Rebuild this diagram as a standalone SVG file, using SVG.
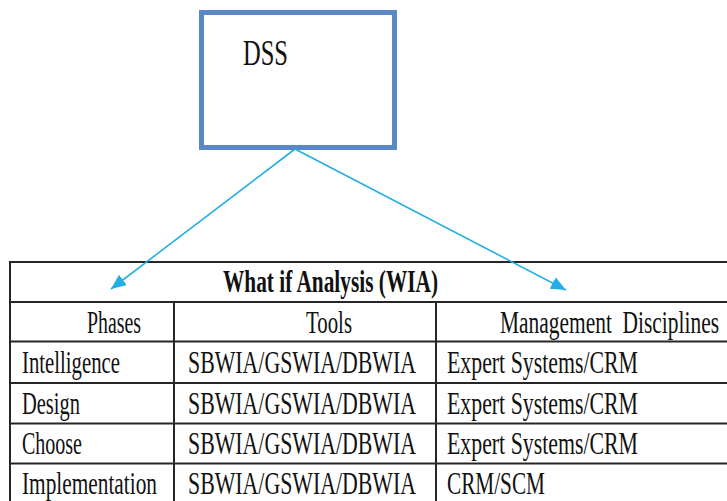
<svg xmlns="http://www.w3.org/2000/svg" width="727" height="501" viewBox="0 0 727 501">
  <style>
    .box { fill: #ffffff; stroke: #5a87c6; stroke-width: 5; }
    .grid { stroke: #262626; stroke-width: 2; fill: none; }
    .conn { stroke: #23aee6; stroke-width: 1.6; fill: none; }
    .t { font-family: "Liberation Serif", "Times New Roman", serif; font-size: 21.5px; fill: #111111; }
    .b { font-weight: bold; font-size: 21.2px; }
  </style>
  <defs>
    <marker id="arrow" markerUnits="userSpaceOnUse" markerWidth="16" markerHeight="14" refX="15" refY="6.5" orient="auto">
      <path d="M0,0 L15,6.5 L0,13 z" fill="#23aee6"/>
    </marker>
  </defs>
  <rect width="727" height="501" fill="#ffffff"/>

  <!-- DSS node -->
  <g id="dss">
    <rect class="box" x="201.5" y="12.5" width="193" height="135"/>
    <text class="t" transform="translate(243,65) scale(1,1.47)" style="font-size:24.5px" textLength="45" lengthAdjust="spacingAndGlyphs">DSS</text>
  </g>

  <!-- What-if analysis table; glyphs are set narrow and stretched tall -->
  <g id="wia-table">
    <!-- outer frame (right and bottom edges run past the canvas) -->
    <path class="grid" d="M740,262 H10 V510"/>
    <!-- row separators -->
    <path class="grid" d="M10,302 H740 M10,341.5 H740 M10,383 H740 M10,423.5 H740 M10,463.5 H740"/>
    <!-- column separators -->
    <path class="grid" d="M174,302 V510 M436,302 V510"/>

    <text class="t b" transform="translate(223,292) scale(1,1.5)" textLength="215" lengthAdjust="spacingAndGlyphs">What if Analysis (WIA)</text>

    <text class="t" transform="translate(87,333) scale(1,1.5)" textLength="54" lengthAdjust="spacingAndGlyphs">Phases</text>
    <text class="t" transform="translate(306,333) scale(1,1.5)" textLength="46" lengthAdjust="spacingAndGlyphs">Tools</text>
    <text class="t" transform="translate(500,333) scale(1,1.5)" textLength="219" lengthAdjust="spacingAndGlyphs" xml:space="preserve">Management  Disciplines</text>

    <text class="t" transform="translate(22,373) scale(1,1.5)" textLength="98" lengthAdjust="spacingAndGlyphs">Intelligence</text>
    <text class="t" transform="translate(188,373) scale(1,1.5)" textLength="228" lengthAdjust="spacingAndGlyphs">SBWIA/GSWIA/DBWIA</text>
    <text class="t" transform="translate(447,373) scale(1,1.5)" textLength="191" lengthAdjust="spacingAndGlyphs">Expert Systems/CRM</text>

    <text class="t" transform="translate(22,413.5) scale(1,1.5)" textLength="58" lengthAdjust="spacingAndGlyphs">Design</text>
    <text class="t" transform="translate(188,413.5) scale(1,1.5)" textLength="228" lengthAdjust="spacingAndGlyphs">SBWIA/GSWIA/DBWIA</text>
    <text class="t" transform="translate(447,413.5) scale(1,1.5)" textLength="191" lengthAdjust="spacingAndGlyphs">Expert Systems/CRM</text>

    <text class="t" transform="translate(22,453.5) scale(1,1.5)" textLength="60" lengthAdjust="spacingAndGlyphs">Choose</text>
    <text class="t" transform="translate(188,453.5) scale(1,1.5)" textLength="228" lengthAdjust="spacingAndGlyphs">SBWIA/GSWIA/DBWIA</text>
    <text class="t" transform="translate(447,453.5) scale(1,1.5)" textLength="191" lengthAdjust="spacingAndGlyphs">Expert Systems/CRM</text>

    <text class="t" transform="translate(22,494) scale(1,1.5)" textLength="135" lengthAdjust="spacingAndGlyphs">Implementation</text>
    <text class="t" transform="translate(188,494) scale(1,1.5)" textLength="228" lengthAdjust="spacingAndGlyphs">SBWIA/GSWIA/DBWIA</text>
    <text class="t" transform="translate(447,494) scale(1,1.5)" textLength="98" lengthAdjust="spacingAndGlyphs">CRM/SCM</text>
  </g>

  <!-- connectors -->
  <g id="connectors">
    <line class="conn" x1="295" y1="149" x2="111" y2="289" marker-end="url(#arrow)"/>
    <line class="conn" x1="295" y1="149" x2="566" y2="290" marker-end="url(#arrow)"/>
  </g>
</svg>
